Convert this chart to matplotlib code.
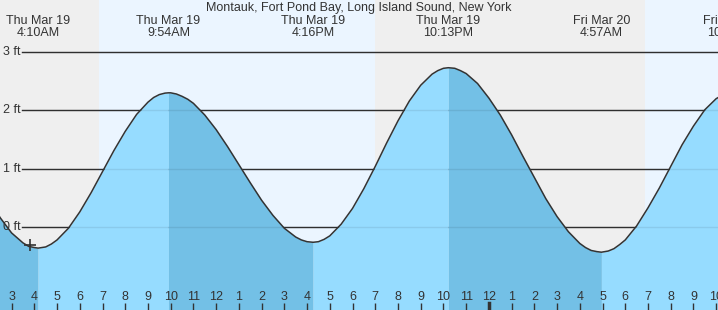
import numpy as np
import matplotlib
matplotlib.use("Agg")
import matplotlib.pyplot as plt

plt.rcParams['font.family'] = ['Liberation Sans', 'DejaVu Sans']

# hours since midnight Thu Mar 19, water level in ft
hours = [2.0, 2.5, 3.0, 3.5, 3.75, 4.0, 4.167, 4.5, 4.75, 5.0, 5.5, 6.0, 6.5,
         7.0, 7.5, 8.0, 8.5, 9.0, 9.25, 9.5, 9.75, 9.9, 10.0, 10.25, 10.5,
         10.75, 11.0, 11.5, 12.0, 12.5, 13.0, 13.5, 14.0, 14.5, 15.0, 15.5,
         15.75, 16.0, 16.267, 16.5, 16.75, 17.0, 17.5, 18.0, 18.5, 19.0, 19.5,
         20.0, 20.5, 21.0, 21.5, 21.75, 22.0, 22.217, 22.5, 22.75, 23.0, 23.5,
         24.0, 24.5, 25.0, 25.5, 26.0, 26.5, 27.0, 27.5, 28.0, 28.25, 28.5,
         28.75, 28.95, 29.25, 29.5, 29.75, 30.0, 30.5, 31.0, 31.5, 32.0, 32.5,
         33.0, 33.5, 34.0, 34.5]
level = [0.48, 0.16, -0.10, -0.27, -0.33, -0.35, -0.36, -0.34, -0.29, -0.22,
         -0.02, 0.26, 0.59, 0.95, 1.31, 1.64, 1.93, 2.14, 2.22, 2.27, 2.295,
         2.30, 2.30, 2.28, 2.24, 2.19, 2.12, 1.92, 1.67, 1.38, 1.07, 0.76, 0.46,
         0.20, -0.02, -0.17, -0.22, -0.25, -0.26, -0.25, -0.21, -0.15, 0.05,
         0.32, 0.66, 1.04, 1.44, 1.82, 2.16, 2.43, 2.62, 2.68, 2.72, 2.73, 2.72,
         2.68, 2.63, 2.46, 2.21, 1.92, 1.58, 1.21, 0.85, 0.49, 0.18, -0.08,
         -0.28, -0.35, -0.40, -0.42, -0.43, -0.41, -0.37, -0.30, -0.22, 0.02,
         0.33, 0.67, 1.04, 1.41, 1.73, 2.01, 2.20, 2.31]

# high / low tides
tide_hours = [4.167, 9.9, 16.267, 22.217, 28.95, 34.68]
tide_labels = ["Thu Mar 19\n4:10AM", "Thu Mar 19\n9:54AM", "Thu Mar 19\n4:16PM",
               "Thu Mar 19\n10:13PM", "Fri Mar 20\n4:57AM", "Fri Mar 20\n10:41AM"]

# sunrise / sunset
daylight = [(6.85, 19.0), (30.85, 40.0)]

ft_levels = [0, 1, 2, 3]
hour_ticks = list(range(3, 35))
hour_labels = ['3', '4', '5', '6', '7', '8', '9', '10', '11', '12', '1', '2', '3',
               '4', '5', '6', '7', '8', '9', '10', '11', '12', '1', '2', '3', '4',
               '5', '6', '7', '8', '9', '10']
now_hour, now_level = 3.81, -0.31

night_col = '#efefef'
day_col = '#ebf5ff'
rise_col = '#96dcff'
fall_col = '#73c0e6'
txt_col = '#333333'

x0, x1 = 2.49, 34.08
y0, y1 = -1.42, 3.89

fig = plt.figure(figsize=(7.18, 3.10), dpi=100)
ax = fig.add_axes([0, 0, 1, 1])
ax.set_xlim(x0, x1)
ax.set_ylim(y0, y1)
ax.set_facecolor(night_col)
ax.set_axisbelow(False)
for a, b in daylight:
    ax.axvspan(a, b, color=day_col, lw=0, zorder=0)

# grid lines
for lv in ft_levels:
    ax.axhline(lv, xmin=22 / 718, xmax=1, color=txt_col, lw=1, zorder=1)
    ax.text(x0 + 3 / 22.73, lv, "%d ft" % lv, fontsize=9, color=txt_col,
            ha='left', va='center', zorder=5)

# water, light when rising and dark when falling
t = np.array(hours)
h = np.array(level)
bounds = [t[0]] + tide_hours[:5] + [t[-1]]
for i in range(len(bounds) - 1):
    m = (t >= bounds[i]) & (t <= bounds[i + 1])
    col = fall_col if i % 2 == 0 else rise_col
    ax.fill_between(t[m], y0 - 1, h[m], color=col, lw=0, zorder=2)
for lv in ft_levels:
    ax.axhline(lv, xmin=22 / 718, xmax=1, color='black', alpha=0.08, lw=1, zorder=3)
ax.plot(t, h, color='#333333', lw=1.1, zorder=4)
ax.plot(now_hour, now_level, marker='+', ms=9, mew=1.2, color=txt_col, zorder=5)

# tide labels + title
for th, lab in zip(tide_hours, tide_labels):
    ax.text(th, y1 - 15 / 58.3, lab, fontsize=9, color=txt_col, ha='center',
            va='top', linespacing=1.05, zorder=5)
ax.text(0.5, 1 - 2 / 310, "Montauk, Fort Pond Bay, Long Island Sound, New York",
        transform=ax.transAxes, fontsize=9, color=txt_col, ha='center', va='top',
        zorder=5)

# hour ticks inside the plot
ax.set_xticks(hour_ticks, hour_labels)
ax.tick_params(axis='x', direction='in', length=5, width=1, color=txt_col,
               labelcolor=txt_col, labelsize=9, pad=-13.5)
ax.set_yticks([])
ax.axvline(24, ymin=0, ymax=7 / 310, color=txt_col, lw=2.5, zorder=6)
for s in ax.spines.values():
    s.set_visible(False)

fig.savefig('out.png', dpi=100)
